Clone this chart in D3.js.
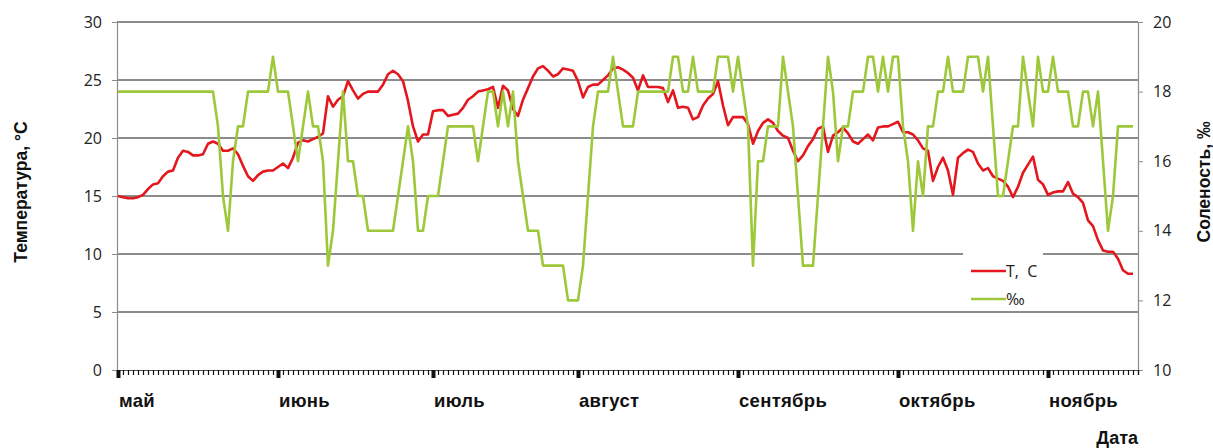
<!DOCTYPE html>
<html>
<head>
<meta charset="utf-8">
<script src="https://cdn.jsdelivr.net/npm/d3@7"></script>
<style>
  html, body { margin: 0; padding: 0; background: #fff; }
  svg { display: block; }
</style>
</head>
<body>
<svg id="chart" width="1213" height="448"></svg>
<script>
// Daily observations, May – November: water temperature (°C) and salinity (‰)
const temperature = [
  15.0,14.9,14.8,14.8,14.9,15.1,15.6,16.0,16.1,16.7,
  17.1,17.2,18.3,18.9,18.8,18.5,18.5,18.6,19.5,19.7,
  19.5,18.9,18.9,19.1,18.6,17.6,16.7,16.3,16.8,17.1,
  17.2,17.2,17.5,17.8,17.4,18.3,19.6,19.8,19.7,19.9,
  20.1,20.4,23.6,22.7,23.3,23.6,24.9,24.1,23.4,23.8,
  24.0,24.0,24.0,24.6,25.5,25.8,25.5,24.9,23.2,21.0,
  19.7,20.3,20.3,22.3,22.4,22.4,21.9,22.0,22.1,22.6,
  23.3,23.6,24.0,24.1,24.2,24.4,22.6,24.5,24.1,22.5,
  21.9,23.3,24.3,25.3,26.0,26.2,25.8,25.3,25.5,26.0,
  25.9,25.8,24.9,23.5,24.4,24.6,24.6,25.0,25.4,26.0,
  26.1,25.9,25.6,25.2,24.1,25.4,24.4,24.4,24.4,24.3,
  23.1,24.1,22.6,22.7,22.6,21.6,21.8,22.8,23.4,23.8,
  24.9,22.8,21.1,21.8,21.8,21.8,21.2,19.5,20.6,21.3,
  21.6,21.3,20.6,20.2,20.0,18.9,18.0,18.5,19.3,19.9,
  20.8,21.0,18.8,20.2,20.5,20.9,20.4,19.7,19.5,19.9,
  20.3,19.8,20.9,21.0,21.0,21.2,21.4,20.5,20.5,20.3,
  19.8,19.1,18.9,16.3,17.5,18.3,17.2,15.1,18.3,18.7,
  19.0,18.8,17.8,17.2,17.4,16.7,16.5,16.3,15.8,14.9,
  15.8,17.0,17.7,18.4,16.4,16.0,15.1,15.3,15.4,15.4,
  16.2,15.2,14.9,14.4,12.9,12.4,11.2,10.3,10.2,10.2,
  9.6,8.6,8.3,8.3
];

const salinity = [
  18,18,18,18,18,18,18,18,18,18,
  18,18,18,18,18,18,18,18,18,18,
  17,15,14,16,17,17,18,18,18,18,
  18,19,18,18,18,17,16,17,18,17,
  17,16,13,14,16,18,16,16,15,15,
  14,14,14,14,14,14,15,16,17,16,
  14,14,15,15,15,16,17,17,17,17,
  17,17,16,17,18,18,17,18,17,18,
  16,15,14,14,14,13,13,13,13,13,
  12,12,12,13,15,17,18,18,18,19,
  18,17,17,17,18,18,18,18,18,18,
  18,19,19,18,18,19,18,18,18,18,
  19,19,19,18,19,18,17,13,16,16,
  17,17,17,19,18,17,15,13,13,13,
  15,17,19,18,16,17,17,18,18,18,
  19,19,18,19,18,19,19,17,16,14,
  16,15,17,17,18,18,19,18,18,18,
  19,19,19,18,19,17,15,15,16,17,
  17,19,18,17,19,18,18,19,18,18,
  18,17,17,18,18,17,18,16,14,15,
  17,17,17,17
];

// Month names and the index of each month's first day in the series
const months = ["май", "июнь", "июль", "август", "сентябрь", "октябрь", "ноябрь"];
const monthStart = [0, 32, 63, 92, 124, 156, 186];

const tempTicks = [0, 5, 10, 15, 20, 25, 30];
const salTicks = [10, 12, 14, 16, 18, 20];

const seriesNames = ["T,  C", "‰"];

// ---- layout ----
const plot = { left: 117, right: 1138, top: 22, bottom: 370 };
const nSlots = 204;               // category slots across the axis
const red = "#e3171d", green = "#9dc83a";
const labelFont = "'Open Sans', 'Liberation Sans', Arial, sans-serif";
const boldFont = "'Liberation Sans', Arial, sans-serif";

const svg = d3.select("#chart");

const x = d3.scaleLinear().domain([0, nSlots]).range([plot.left + 1, plot.right]);
const yT = d3.scaleLinear().domain([0, 30]).range([plot.bottom, plot.top]);
const yS = d3.scaleLinear().domain([10, 20]).range([plot.bottom, plot.top]);

// horizontal gridlines
svg.append("g")
  .selectAll("line")
  .data(tempTicks.filter(d => d > 0))
  .join("line")
  .attr("x1", plot.left).attr("x2", plot.right)
  .attr("y1", d => yT(d)).attr("y2", d => yT(d))
  .attr("stroke", "#8c8c8c").attr("stroke-width", 1.2)
  .attr("shape-rendering", "crispEdges");

// left axis
const leftAxis = svg.append("g")
  .attr("transform", `translate(${plot.left},0)`)
  .call(d3.axisLeft(yT).tickValues(tempTicks).tickSize(5).tickPadding(10));
leftAxis.select(".domain").attr("stroke", "#8c8c8c").attr("stroke-width", 1.2);
leftAxis.selectAll(".tick line").attr("stroke", "#8c8c8c");
leftAxis.selectAll(".tick text")
  .attr("font-family", labelFont).attr("font-size", 16).attr("fill", "#222");

// right axis
const rightAxis = svg.append("g")
  .attr("transform", `translate(${plot.right},0)`)
  .call(d3.axisRight(yS).tickValues(salTicks).tickSize(5).tickPadding(10));
rightAxis.select(".domain").attr("stroke", "#8c8c8c").attr("stroke-width", 1.2);
rightAxis.selectAll(".tick line").attr("stroke", "#8c8c8c");
rightAxis.selectAll(".tick text")
  .attr("font-family", labelFont).attr("font-size", 16).attr("fill", "#222");

// bottom axis: a tick per day, heavy marks at month starts
const bottomAxis = svg.append("g")
  .attr("transform", `translate(0,${plot.bottom})`)
  .call(d3.axisBottom(x).tickValues(d3.range(0, nSlots + 1)).tickSize(5).tickFormat(""));
bottomAxis.select(".domain").attr("stroke", "#555").attr("stroke-width", 1.2);
bottomAxis.selectAll(".tick line").attr("stroke", "#111").attr("stroke-width", 1.2);

svg.append("g")
  .selectAll("rect")
  .data(monthStart)
  .join("rect")
  .attr("x", d => x(d) - 1.5).attr("y", plot.bottom)
  .attr("width", 4).attr("height", 8)
  .attr("fill", "#111");

svg.append("g")
  .selectAll("text")
  .data(months)
  .join("text")
  .attr("x", (d, i) => x(monthStart[i]) + 1)
  .attr("y", 407)
  .attr("font-family", boldFont).attr("font-weight", "bold").attr("font-size", 18.5)
  .attr("letter-spacing", 0.3)
  .attr("fill", "#111")
  .text(d => d);

// legend background sits over the gridlines
const legend = { x: 963, y: 250, w: 80, h: 58 };
svg.append("rect")
  .attr("x", legend.x).attr("y", legend.y)
  .attr("width", legend.w).attr("height", legend.h)
  .attr("fill", "#fff");

// series lines
const lineT = d3.line().x((d, i) => x(i)).y(d => yT(d));
const lineS = d3.line().x((d, i) => x(i)).y(d => yS(d));

svg.append("path")
  .datum(temperature)
  .attr("d", lineT)
  .attr("fill", "none").attr("stroke", red).attr("stroke-width", 2.6)
  .attr("stroke-linejoin", "round");

svg.append("path")
  .datum(salinity)
  .attr("d", lineS)
  .attr("fill", "none").attr("stroke", green).attr("stroke-width", 2.6)
  .attr("stroke-linejoin", "round");

// legend entries
const legendRows = svg.append("g")
  .selectAll("g")
  .data(seriesNames)
  .join("g")
  .attr("transform", (d, i) => `translate(971,${271 + i * 28})`);
legendRows.append("line")
  .attr("x1", 0).attr("x2", 35).attr("y1", 0).attr("y2", 0)
  .attr("stroke", (d, i) => i === 0 ? red : green).attr("stroke-width", 2.6);
legendRows.append("text")
  .attr("x", 35).attr("y", 6)
  .attr("font-family", labelFont).attr("font-size", 16).attr("fill", "#222")
  .attr("xml:space", "preserve")
  .style("white-space", "pre")
  .text(d => d);

// axis titles
svg.append("text")
  .attr("transform", "translate(27,192) rotate(-90)")
  .attr("text-anchor", "middle")
  .attr("font-family", boldFont).attr("font-weight", "bold").attr("font-size", 17.5)
  .attr("fill", "#111")
  .text("Температура, °С");

svg.append("text")
  .attr("transform", "translate(1210,182) rotate(-90)")
  .attr("text-anchor", "middle")
  .attr("font-family", boldFont).attr("font-weight", "bold").attr("font-size", 17.5)
  .attr("fill", "#111")
  .text("Соленость, ‰");

svg.append("text")
  .attr("x", 1138).attr("y", 444)
  .attr("text-anchor", "end")
  .attr("font-family", boldFont).attr("font-weight", "bold").attr("font-size", 18)
  .attr("fill", "#111")
  .text("Дата");
</script>
</body>
</html>
